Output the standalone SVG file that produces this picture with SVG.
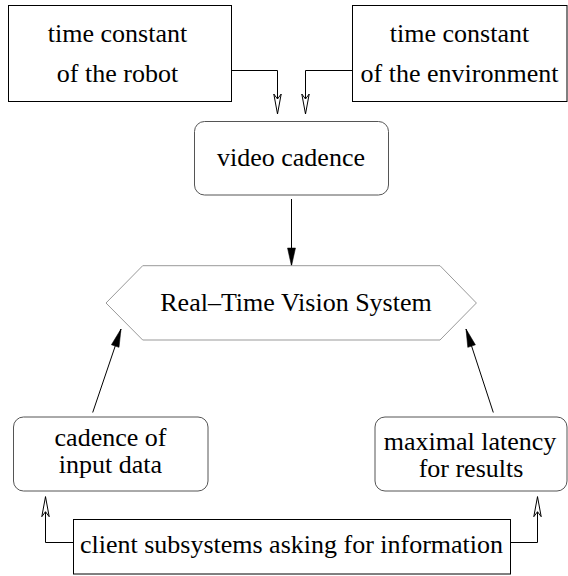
<svg xmlns="http://www.w3.org/2000/svg" width="568" height="576" viewBox="0 0 568 576">
  <style>
    .box { fill: #fff; stroke: #000; stroke-width: 1; }
    .rbox { fill: #fff; stroke: #555; stroke-width: 1; }
    .hex { fill: #fff; stroke: #999; stroke-width: 1; }
    text { font-family: 'Liberation Serif', 'Times New Roman', Times, serif; font-size: 26px; fill: #000; text-anchor: middle; }
    .edge { fill: none; stroke: #000; stroke-width: 1; }
  </style>
  <defs>
    <marker id="openArrow" viewBox="-21 -5 22 10" refX="0" refY="0" markerWidth="22" markerHeight="10" markerUnits="userSpaceOnUse" orient="auto" overflow="visible">
      <path d="M0,0 L-20,-3.7 L-15,0 L-20,3.7 Z" fill="#fff" stroke="#000" stroke-width="1"/>
    </marker>
    <marker id="filledArrow" viewBox="-19 -5 20 10" refX="0" refY="0" markerWidth="20" markerHeight="10" markerUnits="userSpaceOnUse" orient="auto" overflow="visible">
      <path d="M0,0 L-18,-4 L-18,4 Z" fill="#000" stroke="#000" stroke-width="0.5"/>
    </marker>
  </defs>

  <g id="connectors">
    <path class="edge" d="M231.5,70.5 H277.5 V114" marker-end="url(#openArrow)"/>
    <path class="edge" d="M352.5,70.5 H305.5 V114" marker-end="url(#openArrow)"/>
    <path class="edge" d="M291.5,199 V266" marker-end="url(#filledArrow)"/>
    <path class="edge" d="M92.7,412.5 L121,329" marker-end="url(#filledArrow)"/>
    <path class="edge" d="M493.3,412.5 L466,329" marker-end="url(#filledArrow)"/>
    <path class="edge" d="M73.5,542.5 H45.5 V496.7" marker-end="url(#openArrow)"/>
    <path class="edge" d="M510.5,542.5 H537.5 V496.7" marker-end="url(#openArrow)"/>
  </g>

  <g id="robot" font-family="Liberation Serif, serif">
    <rect class="box" x="8.5" y="5.5" width="223" height="96"/>
    <text x="117.5" y="42">time constant</text>
    <text x="117.5" y="82">of the robot</text>
  </g>

  <g id="environment" font-family="Liberation Serif, serif">
    <rect class="box" x="352.5" y="5.5" width="214.5" height="96"/>
    <text x="459.5" y="42">time constant</text>
    <text x="459.5" y="82">of the environment</text>
  </g>

  <g id="video-cadence" font-family="Liberation Serif, serif">
    <rect class="rbox" x="194.5" y="121.5" width="194" height="73.5" rx="10" ry="10"/>
    <text x="291" y="166">video cadence</text>
  </g>

  <g id="vision-system" font-family="Liberation Serif, serif">
    <polygon class="hex" points="106,303 142.7,265.7 440,265.7 476.4,303 440,340 142.7,340"/>
    <text x="296" y="311">Real–Time Vision System</text>
  </g>

  <g id="input-cadence" font-family="Liberation Serif, serif">
    <rect class="rbox" x="13.5" y="417" width="194.5" height="74" rx="10" ry="10"/>
    <text x="110.5" y="445.5">cadence of</text>
    <text x="110.5" y="473">input data</text>
  </g>

  <g id="latency" font-family="Liberation Serif, serif">
    <rect class="rbox" x="375" y="417" width="192" height="74" rx="10" ry="10"/>
    <text x="470" y="449.5">maximal latency</text>
    <text x="471" y="477">for results</text>
  </g>

  <g id="clients" font-family="Liberation Serif, serif">
    <rect class="box" x="73.5" y="519.5" width="437" height="54.5"/>
    <text x="291.5" y="553">client subsystems asking for information</text>
  </g>
</svg>
